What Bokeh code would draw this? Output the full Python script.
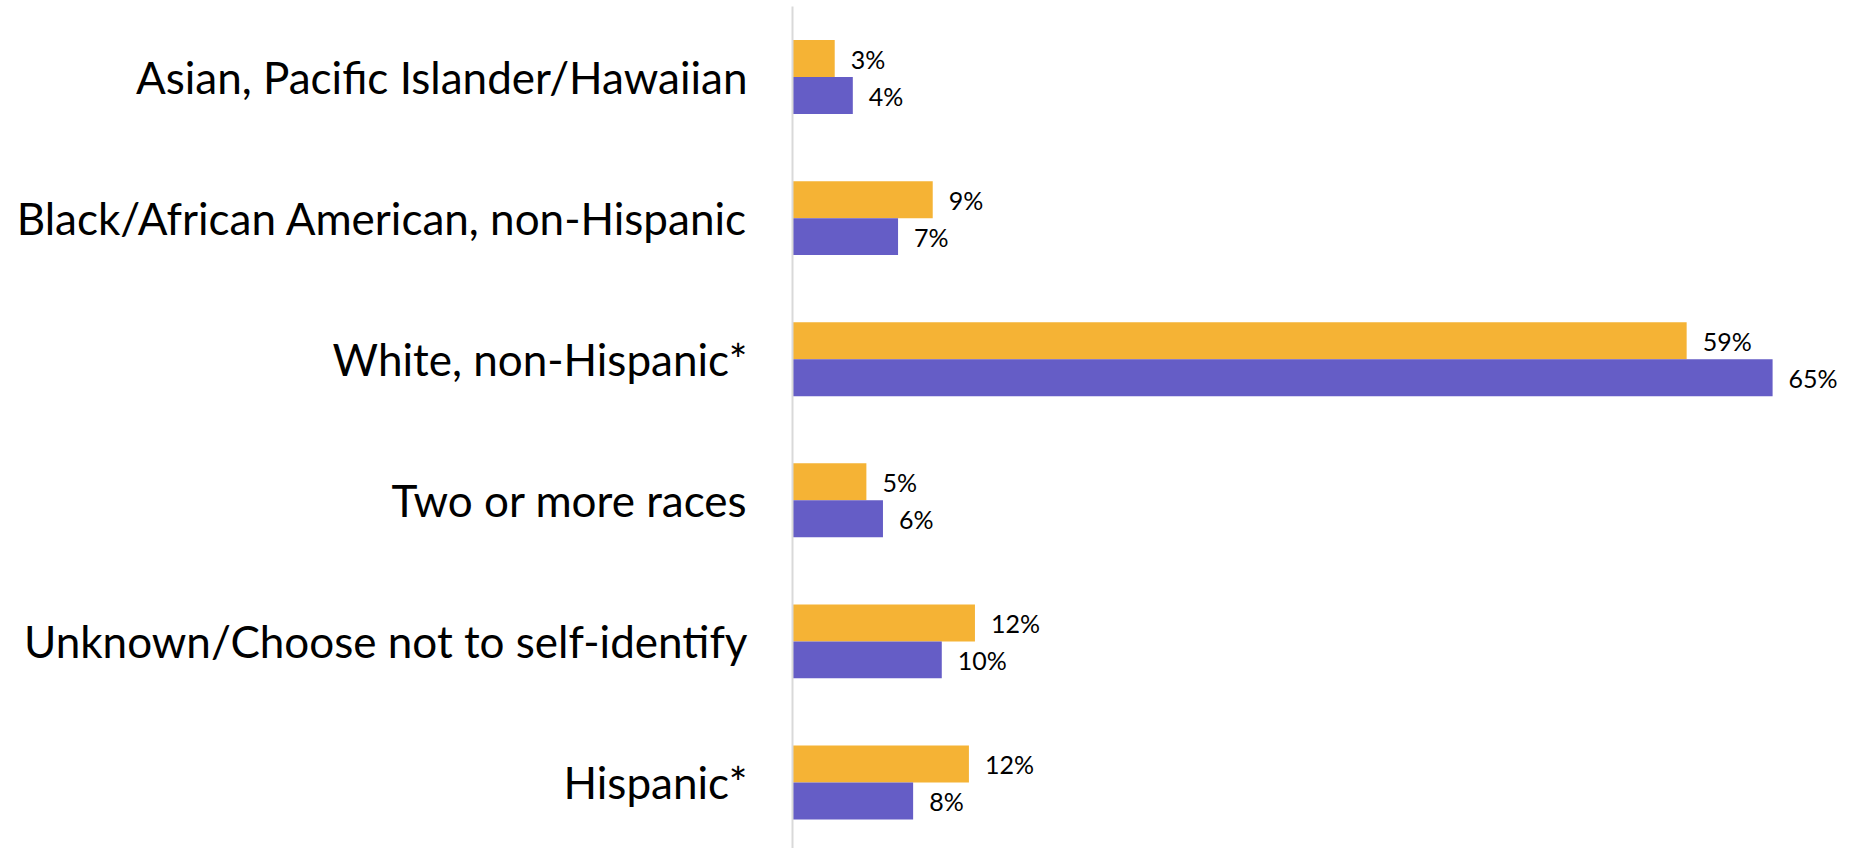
from bokeh.plotting import figure
from bokeh.models import Range1d, ColumnDataSource, FixedTicker
from bokeh.core.properties import value
from bokeh.embed import file_html
from bokeh.resources import INLINE

categories = [
    "Asian, Pacific Islander/Hawaiian",
    "Black/African American, non-Hispanic",
    "White, non-Hispanic*",
    "Two or more races",
    "Unknown/Choose not to self-identify",
    "Hispanic*",
]
series_a = [2.8, 9.3, 59.3, 4.9, 12.1, 11.7]
series_b = [4.0, 7.0, 65.0, 6.0, 9.9, 8.0]
labels_a = ["3%", "9%", "59%", "5%", "12%", "12%"]
labels_b = ["4%", "7%", "65%", "6%", "10%", "8%"]

ORANGE = "#F5B335"
PURPLE = "#655DC6"
FONT = "Lato"

idx = list(range(len(categories)))
half = 0.131
src_a = ColumnDataSource(dict(y=[i - half for i in idx], v=series_a, t=labels_a))
src_b = ColumnDataSource(dict(y=[i + half for i in idx], v=series_b, t=labels_b))

p = figure(width=1849, height=848, output_backend="svg", toolbar_location=None,
           x_range=Range1d(0, 70.1), y_range=Range1d(5.468, -0.5),
           min_border_left=792, min_border_top=6, min_border_bottom=0, min_border_right=0)
p.outline_line_color = None
p.grid.visible = False
p.xaxis.visible = False

p.hbar(y="y", left=0, right="v", height=0.262, source=src_a, color=ORANGE, line_color=None)
p.hbar(y="y", left=0, right="v", height=0.262, source=src_b, color=PURPLE, line_color=None)

p.text(x="v", y="y", text="t", source=src_a, x_offset=16, text_baseline="middle",
       text_font=value(FONT), text_font_size="25px", text_color="#000000")
p.text(x="v", y="y", text="t", source=src_b, x_offset=16, text_baseline="middle",
       text_font=value(FONT), text_font_size="25px", text_color="#000000")

ya = p.yaxis[0]
ya.ticker = FixedTicker(ticks=idx)
ya.major_label_overrides = {i: c for i, c in zip(idx, categories)}
ya.major_tick_line_color = None
ya.minor_tick_line_color = None
ya.major_label_standoff = 39
ya.major_label_text_font = FONT
ya.major_label_text_font_size = "44px"
ya.major_label_text_color = "#000000"
ya.axis_line_color = "#D9D9D9"
ya.axis_line_width = 2

open("out.html", "w").write(file_html(p, INLINE))
